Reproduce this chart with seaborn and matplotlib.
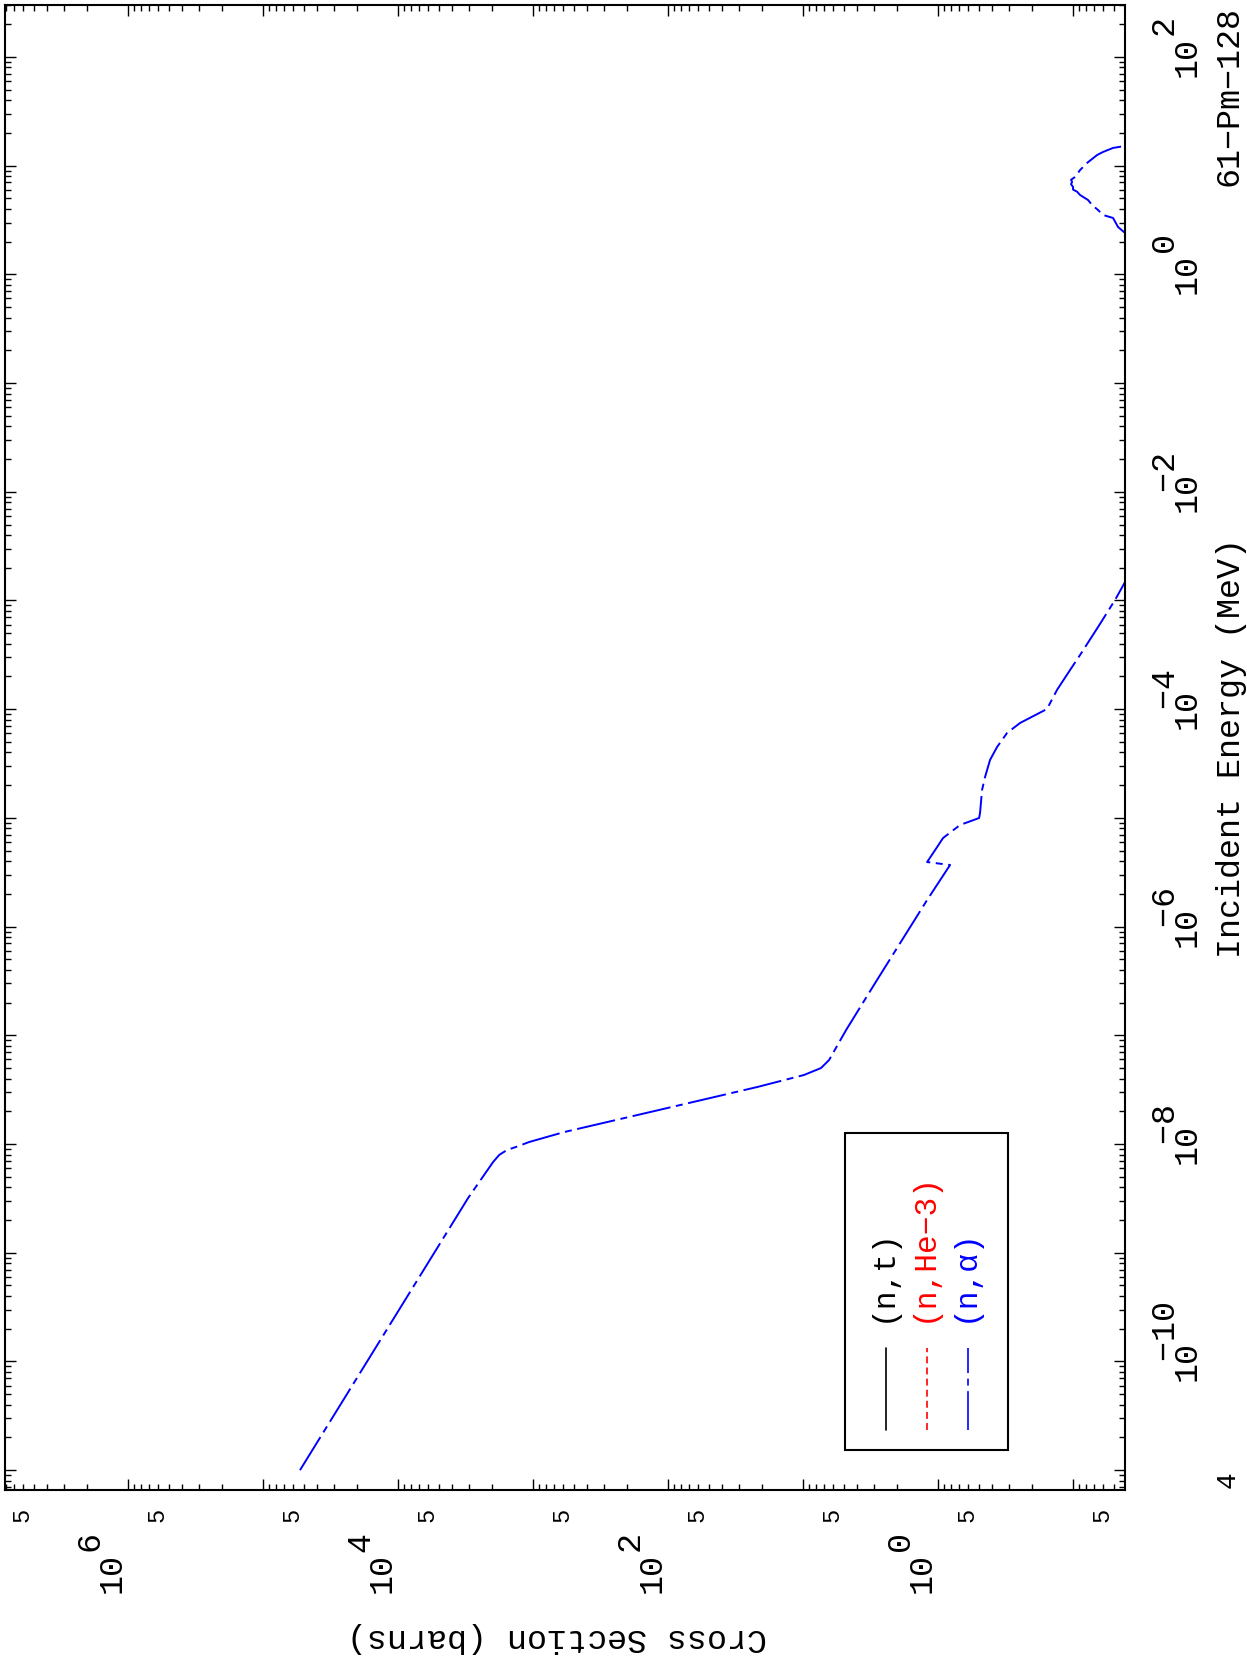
import numpy as np
import pandas as pd
import matplotlib
matplotlib.use('Agg')
import matplotlib.pyplot as plt
from matplotlib.ticker import LogLocator, FuncFormatter, NullFormatter
from matplotlib.patches import Rectangle
from matplotlib.lines import Line2D
from matplotlib.transforms import ScaledTranslation
import seaborn as sns

# (n,alpha) cross section of 61-Pm-128 as log10 values
# low energy part (leaves the frame near 1.5 keV)
low_log_energy = [-11.0, -8.497, -8.166, -8.10, -8.055, -8.02, -7.982, -7.890, -7.706,
                  -7.476, -7.365, -7.301, -7.227, -6.951, -6.491, -5.755, -5.433, -5.406,
                  -5.268, -5.185, -5.065, -5.001, -4.955, -4.743, -4.624, -4.467, -4.348,
                  -4.219, -4.127, -3.998, -3.823, -3.639, -3.501, -3.244, -2.995, -2.830, -2.65]
low_log_xs = [4.726, 3.481, 3.296, 3.25, 3.193, 3.11, 3.030, 2.770, 2.133,
              1.341, 0.993, 0.867, 0.807, 0.681, 0.452, 0.081, -0.089, 0.081,
              0.007, -0.037, -0.163, -0.304, -0.311, -0.326, -0.348, -0.385, -0.437,
              -0.511, -0.607, -0.807, -0.881, -0.978, -1.052, -1.185, -1.311, -1.385, -1.50]
# fast neutron bump (MeV region)
high_log_energy = [0.33, 0.381, 0.436, 0.519, 0.546, 0.592, 0.638, 0.684, 0.730, 0.76,
                   0.78, 0.804, 0.83, 0.850, 0.87, 0.896, 0.960, 1.025, 1.098, 1.126,
                   1.163, 1.181, 1.19]
high_log_xs = [-1.45, -1.385, -1.333, -1.296, -1.222, -1.185, -1.141, -1.111, -1.052, -1.03,
               -1.00, -1.000, -0.985, -0.993, -0.985, -1.015, -1.052, -1.104, -1.178, -1.222,
               -1.296, -1.385, -1.45]

legend_labels = ['(n,t)', '(n,He\u22123)', '(n,\u03b1)']
legend_colors = ['black', 'red', 'blue']

sns.set_style('ticks')
plt.rcParams['font.family'] = ['Liberation Mono', 'DejaVu Sans']
plt.rcParams['lines.scale_dashes'] = False
plt.rcParams['axes.edgecolor'] = 'black'
plt.rcParams['text.color'] = 'black'
plt.rcParams['axes.labelcolor'] = 'black'

TICK_FS = 24

df = pd.DataFrame({
    'energy': 10 ** np.array(low_log_energy + high_log_energy),
    'xs': 10 ** np.array(low_log_xs + high_log_xs),
    'part': ['low'] * len(low_log_energy) + ['high'] * len(high_log_energy),
})

fig = plt.figure(figsize=(12.47, 16.63), dpi=100)
ax = fig.add_axes([0.004, 0.104, 0.8982, 0.8930])
ax.set_xscale('log')
ax.set_yscale('log')

# page is turned: cross section runs right-to-left, energy runs upwards
sns.lineplot(data=df, x='xs', y='energy', units='part', estimator=None, sort=False,
             color='blue', lw=1.4, legend=False, ax=ax)
for line in ax.get_lines():
    line.set_dashes([28, 4, 5, 4])

ax.set_xlim(10 ** 6.911, 10 ** -1.385)
ax.set_ylim(10 ** -11.183, 10 ** 2.478)

for s in ax.spines.values():
    s.set_linewidth(1.5)


def even_decade(v, pos):
    # exponent written as a full size line above the "10", like the old plotter does
    e = int(round(np.log10(v)))
    if e % 2:
        return ''
    sup = '  ' + str(e) if e >= 0 else ' \u2212' + str(-e)
    return sup + '\n10'


def five_only(v, pos):
    m = v / 10 ** np.floor(np.log10(v) + 1e-9)
    return '5' if abs(m - 5) < 0.01 else ''


for axis in [ax.xaxis, ax.yaxis]:
    axis.set_major_locator(LogLocator(base=10, numticks=100))
    axis.set_minor_locator(LogLocator(base=10, subs=np.arange(2, 10) * 1.0, numticks=100))
    axis.set_major_formatter(FuncFormatter(even_decade))
ax.xaxis.set_minor_formatter(FuncFormatter(five_only))
ax.yaxis.set_minor_formatter(NullFormatter())

ax.tick_params(which='both', direction='in', top=True, bottom=True, left=True, right=True,
               labelleft=False, labelright=True, labeltop=False, labelbottom=True,
               width=1.0, colors='black')
ax.tick_params(which='major', length=8)
ax.tick_params(which='minor', length=4)
ax.tick_params(axis='x', which='major', labelsize=TICK_FS, pad=31, labelrotation=90)
ax.tick_params(axis='x', which='minor', labelsize=17, pad=13, labelrotation=90)
ax.tick_params(axis='y', which='major', labelsize=TICK_FS, pad=19, labelrotation=90)

# axis titles
ax.set_xlabel('Cross Section (barns)', fontsize=24, rotation=180)
ax.xaxis.label.set_verticalalignment('center')
ax.xaxis.label.set_horizontalalignment('center')
ax.xaxis.set_label_coords(0.493, -0.099)

ax.yaxis.set_label_position('right')
ax.set_ylabel('Incident Energy (MeV)', fontsize=24, rotation=90)
ax.yaxis.label.set_verticalalignment('center')
ax.yaxis.label.set_horizontalalignment('center')
ax.yaxis.set_label_coords(1.0946, 0.5)

ax.text(1.093, 0.9387, '61\u2212Pm\u2212128', rotation=90, ha='center', va='center',
        fontsize=24, transform=ax.transAxes)
ax.text(1.092, 0.0067, '4', rotation=90, ha='center', va='center',
        fontsize=20, transform=ax.transAxes)

# legend drawn by hand, turned with the page
ax.add_patch(Rectangle((0.750, 0.0269), 0.1455, 0.2135, transform=ax.transAxes,
                       fill=False, lw=1.5, ec='black', zorder=5))
legend_x = [0.7866, 0.8232, 0.8598]
legend_dashes = [None, [5, 3], [28, 4, 5, 4]]
for x, lab, c, d in zip(legend_x, legend_labels, legend_colors, legend_dashes):
    ln = Line2D([x, x], [0.0404, 0.0956], transform=ax.transAxes, color=c, lw=1.2)
    if d is not None:
        ln.set_dashes(d)
    ax.add_artist(ln)
    ax.text(x - 0.0025, 0.1131, lab, rotation=90, ha='center', va='bottom',
            fontsize=22.5, color=c, transform=ax.transAxes)

# tick label layout (ticks exist after a first draw and are reused on save)
fig.canvas.draw()
for tick in ax.xaxis.get_major_ticks() + ax.xaxis.get_minor_ticks():
    lab = tick.label1
    lab.set_rotation_mode('default')
    lab.set_horizontalalignment('right')
    lab.set_verticalalignment('top')
    lab.set_multialignment('left')
    lab.set_linespacing(0.55)
char_w = 0.6 * TICK_FS / 72
for tick in ax.yaxis.get_major_ticks():
    lab = tick.label2
    lab.set_rotation_mode('default')
    lab.set_horizontalalignment('left')
    lab.set_verticalalignment('bottom')
    lab.set_multialignment('left')
    lab.set_linespacing(0.55)
    # centre the "10" on the tick
    lab.set_transform(lab.get_transform() + ScaledTranslation(0, -char_w, fig.dpi_scale_trans))

fig.savefig('out.png', dpi=100)
